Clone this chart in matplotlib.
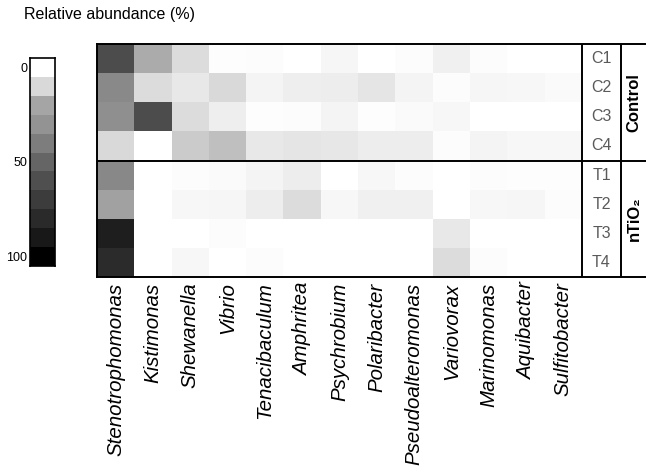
import numpy as np
import matplotlib
matplotlib.use("Agg")
import matplotlib.pyplot as plt
from matplotlib.colors import LinearSegmentedColormap

plt.rcParams['font.family'] = ['Liberation Sans', 'DejaVu Sans']

# genera (columns) and samples (rows)
genera = ["Stenotrophomonas", "Kistimonas", "Shewanella", "Vibrio", "Tenacibaculum",
          "Amphritea", "Psychrobium", "Polaribacter", "Pseudoalteromonas", "Variovorax",
          "Marinomonas", "Aquibacter", "Sulfitobacter"]
samples = ["C1", "C2", "C3", "C4", "T1", "T2", "T3", "T4"]
groups = ["Control", "nTiO₂"]

# relative abundance (%) per sample
C1 = [61, 19, 9, 0.5, 1, 0.3, 2.5, 0.3, 1, 4, 1, 0, 0]
C2 = [34, 9, 6, 10, 3, 4.5, 5, 7, 3, 1, 2.5, 2, 1.5]
C3 = [32, 61, 9, 4.5, 0.5, 0.8, 3, 0.5, 1.3, 2, 0, 0, 0]
C4 = [10, 0, 12.5, 15, 6, 7, 6.5, 5, 5, 1, 3, 2, 2]
T1 = [35, 0, 1, 1.5, 3, 5, 0, 2, 1, 0, 1, 0.5, 0.5]
T2 = [22, 0, 2, 2.5, 5, 9, 2, 4, 4, 0, 2, 2.5, 1]
T3 = [87, 0, 0, 1, 0, 0, 0, 0, 0, 6, 0, 0, 0]
T4 = [79, 0, 2, 0, 1, 0, 0, 0, 0, 9, 1, 0, 0]

# grey ladder used for the scale (0, 10, ..., 100 %)
scale_steps = [0, 10, 20, 30, 40, 50, 60, 70, 80, 90, 100]
greys = ["#ffffff", "#d9d9d9", "#a5a5a5", "#939393", "#7d7d7d", "#666666",
         "#4f4f4f", "#3d3d3d", "#2a2a2a", "#191919", "#000000"]
cmap = LinearSegmentedColormap.from_list("abund", greys)

data = np.array([C1, C2, C3, C4, T1, T2, T3, T4])

W, H = 646, 472
fig = plt.figure(figsize=(W / 100, H / 100), dpi=100)

# heatmap + annotation columns share one axes; right part runs off the figure
col_px = (582 - 97) / 13
right_px = 680
ax = fig.add_axes([97 / W, 1 - 277 / H, (right_px - 97) / W, (277 - 44) / H])
ax.imshow(data, cmap=cmap, vmin=0, vmax=100, aspect="auto",
          interpolation="nearest", extent=(-0.5, 12.5, 7.5, -0.5))
xmax = -0.5 + (right_px - 97) / col_px
ax.set_xlim(-0.5, xmax)
ax.set_ylim(7.5, -0.5)

x_lab = 12.5 + (621 - 582) / col_px
ax.axvline(12.5, color="black", lw=1.4)
ax.axvline(x_lab, color="black", lw=1.4)
ax.axhline(3.5, color="black", lw=1.4)
for s in ax.spines.values():
    s.set_linewidth(1.4)

for i, s in enumerate(samples):
    ax.text((12.5 + x_lab) / 2, i, s, ha="center", va="center",
            fontsize=11.5, color="#5a5a5a")
x_grp = x_lab + (634 - 621) / col_px
ax.text(x_grp, 1.5, groups[0], rotation=90, ha="center", va="center",
        fontsize=12, fontweight="bold")
ax.text(x_grp, 5.5, groups[1], rotation=90, ha="center", va="center",
        fontsize=12, fontweight="bold")

ax.set_xticks(range(len(genera)))
ax.set_xticklabels(genera, rotation=90, style="italic", fontsize=14.8)
ax.set_yticks([])
ax.tick_params(axis="x", length=0, pad=4)

# stepped grey scale
cax = fig.add_axes([30 / W, 1 - 266 / H, 25 / W, (266 - 58) / H])
cax.imshow(np.array(scale_steps).reshape(-1, 1), cmap=cmap, vmin=0, vmax=100,
           aspect="auto", interpolation="nearest")
cax.set_xticks([])
cax.set_yticks([0, 5, 10])
cax.set_yticklabels(["0", "50", "100"], fontsize=9)
cax.tick_params(axis="y", length=0, pad=2)
for s in cax.spines.values():
    s.set_linewidth(1.2)

fig.text(24 / W, 1 - 15 / H, "Relative abundance (%)", fontsize=11.5,
         ha="left", va="center")

fig.savefig("out.png", dpi=100)
